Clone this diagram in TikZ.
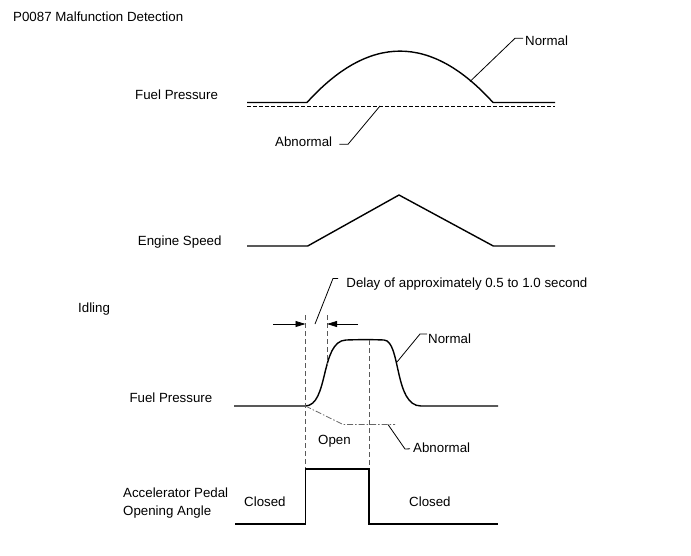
\documentclass[tikz,border=0pt]{standalone}
\usepackage{fontspec}
\setmainfont{Liberation Sans}
\usetikzlibrary{arrows.meta}
\begin{document}
\begin{tikzpicture}[x=1pt,y=-1pt,
  lbl/.style={anchor=base west,inner sep=0pt,font=\fontsize{13.3}{15}\selectfont,text height=9.5pt,text depth=2.5pt},
  curve/.style={line width=1.4pt,line join=round},
  leader/.style={line width=0.8pt},
  vdash/.style={line width=0.7pt,draw=black!65,dash pattern=on 5pt off 3pt},
  hdash/.style={line width=1pt,dash pattern=on 4pt off 2pt},
  dashdot/.style={line width=0.8pt,draw=black!60,dash pattern=on 6pt off 2pt on 1.5pt off 2pt},
  dimarrow/.style={line width=0.8pt,-{Triangle[length=10pt,width=6pt]}}]
\useasboundingbox (0,0) rectangle (691,555);

% texts
\node[lbl] (title) at (13,21.7) {P0087 Malfunction Detection};
\node[lbl] (fp1) at (135,99.3) {Fuel Pressure};
\node[lbl] (normal1) at (525,45) {Normal};
\node[lbl] (abn1) at (275,146) {Abnormal};
\node[lbl] (es) at (137.7,245.5) {Engine Speed};
\node[lbl] (idl) at (78,312) {Idling};
\node[lbl] (delay) at (346.2,287.7) {Delay of approximately 0.5 to 1.0 second};
\node[lbl] (normal2) at (428,343) {Normal};
\node[lbl] (fp2) at (129.3,402.3) {Fuel Pressure};
\node[lbl] (open) at (318,444) {Open};
\node[lbl] (abn2) at (413,452.3) {Abnormal};
\node[lbl] (acc1) at (123,497.3) {Accelerator Pedal};
\node[lbl] (acc2) at (123,515.7) {Opening Angle};
\node[lbl] (cl1) at (244,506) {Closed};
\node[lbl] (cl2) at (409,506) {Closed};

% top fuel pressure
\draw[curve] (247,102.5) -- (307,102.5) .. controls (369,34) and (431,34) .. (493,102.5) -- (555,102.5);
\draw[hdash] (247,106) -- (555,106);
\coordinate (n1a) at (470,81.5);
\coordinate (n1b) at (515,38.3);
\draw[leader] (n1a) -- (n1b) -- ([xshift=-2pt,yshift=3.2pt]normal1.west);
\coordinate (a1a) at (380,106);
\coordinate (a1b) at (348,144.3);
\draw[leader] (a1a) -- (a1b) -- ([xshift=7pt,yshift=-1.8pt]abn1.east);

% engine speed
\draw[curve] (247,246) -- (307.7,246) -- (399,195) -- (493.3,246) -- (555,246);

% bottom fuel pressure
\draw[curve] (234,406) -- (305,406) .. controls (329,406) and (320,341) .. (346,340)
  .. controls (360,339.5) and (372,339.5) .. (384,340)
  .. controls (401,341) and (394,406) .. (421,406) -- (498,406);
\coordinate (v1t) at (305.5,315);
\coordinate (v1b) at (305.5,468);
\coordinate (v2t) at (327,315);
\coordinate (v2b) at (327,366);
\coordinate (v3t) at (369,340);
\coordinate (v3b) at (369,468);
\draw[vdash] (v1t) -- (v1b);
\draw[vdash] (v2t) -- (v2b);
\draw[vdash] (v3t) -- (v3b);
\coordinate (arl) at (273,324);
\coordinate (arr) at (358,324);
\draw[dimarrow] (arl) -- (v1t |- arl);
\draw[dimarrow] (arr) -- (v2t |- arr);
\coordinate (d1) at (315,324);
\coordinate (d2) at (333,278.5);
\draw[leader] (d1) -- (d2) -- (338,278.5);
\coordinate (n2a) at (397,362);
\coordinate (n2b) at (420,334);
\draw[leader] (n2a) -- (n2b) -- ([xshift=-1pt,yshift=5.5pt]normal2.west);
\coordinate (ab0) at (305.5,406);
\coordinate (ab1) at (343,424.5);
\coordinate (ab2) at (395,424.5);
\draw[dashdot] (ab0) -- (ab1) -- (ab2);
\coordinate (a2a) at (388,424.5);
\coordinate (a2b) at (405,449);
\draw[leader] (a2a) -- (a2b) -- ([xshift=-3pt,yshift=0pt]abn2.west);

% pedal
\draw[curve,line join=miter] (235,524) -- (305.5,524) -- (305.5,469) -- (369,469) -- (369,524) -- (498,524);
\end{tikzpicture}
\end{document}
